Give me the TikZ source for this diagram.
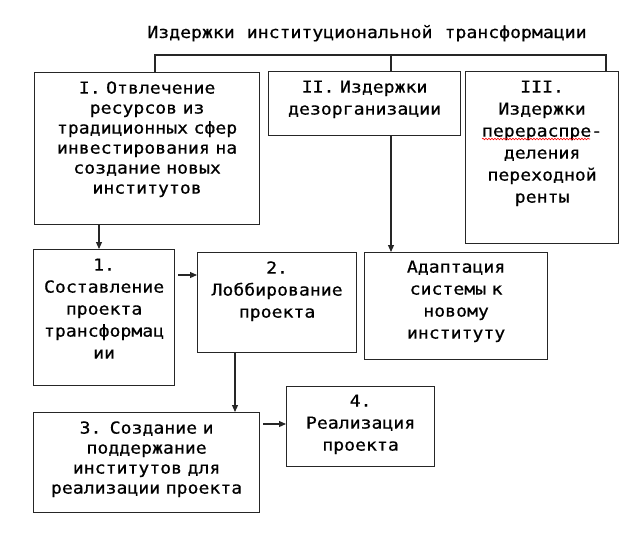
\documentclass[tikz,border=0pt]{standalone}
\usepackage{fontspec}
\newfontfamily\boxfont[FakeStretch=1.1, FakeBold=0.6, WordSpace={1.1,0,0}]{DejaVu Sans Mono}
\usepackage{tikz}
\usetikzlibrary{arrows.meta,positioning,decorations.pathmorphing}
\tikzset{every node/.append style={align=center}}

\begin{document}
\begin{tikzpicture}[
    x=1pt, y=-1pt,
    box/.style={draw=black!85, line width=1.2pt, inner sep=0pt, anchor=north west, font=\boxfont\fontsize{16.5}{22}\selectfont, text height=21pt},
    tight/.style={font=\boxfont\fontsize{16.5}{20}\selectfont},
    arrow/.style={-{Triangle[length=7pt, width=6pt]}, line width=1.1pt, draw=black!85},
    link/.style={line width=1.1pt, draw=black!85}
]
    \useasboundingbox (0,0) rectangle (643,533);

    % Title
    \node[font=\boxfont\fontsize{16.5}{22}\selectfont, anchor=base] (title) at (367,38) {Издержки институциональной трансформации};

    % Cost groups
    \node[box, tight, text width=225pt, text depth=131pt] (diversion) at (34,72) {I. Отвлечение\\ресурсов из\\традиционных сфер\\инвестирования на\\создание новых\\институтов};
    \node[box, text width=192pt, text depth=43pt] (disorg) at (268,71) {II. Издержки\\дезорганизации};
    \node[box, text width=153pt, text depth=151pt] (rent) at (465,71) {III.\\Издержки\\перераспре-\\деления\\переходной\\ренты};

    % Steps
    \node[box, text width=141pt, text depth=115pt] (drafting) at (33,249) {1.\\Составление\\проекта\\трансформац\\ии};
    \node[box, text width=159pt, text depth=79pt] (lobbying) at (197,252) {2.\\Лоббирование\\проекта};
    \node[box, text width=183pt, text height=20pt, text depth=87pt] (adaptation) at (364,252) {Адаптация\\системы к\\новому\\институту};
    \node[box, tight, text width=226pt, text depth=79pt] (support) at (33,412) {3. Создание и\\поддержание\\институтов для\\реализации проекта};
    \node[box, text width=148pt, text height=20pt, text depth=60pt] (realization) at (286,386) {4.\\Реализация\\проекта};

    % Bracket
    \coordinate (barleft) at (155,55);
    \coordinate (barmid) at (391,55);
    \coordinate (barright) at (606,55);
    \draw[link] (barleft |- diversion.north) -- (barleft) -- (barright) -- (barright |- rent.north);
    \draw[link] (barmid) -- (barmid |- disorg.north);

    % Arrows
    \coordinate (downleft) at (99,0);
    \coordinate (downmid) at (235,0);
    \coordinate (rowtop) at (0,275);
    \coordinate (rowbottom) at (0,424);
    \draw[arrow] (downleft |- diversion.south) -- (downleft |- drafting.north);
    \draw[arrow] (barmid |- disorg.south) -- (barmid |- adaptation.north);
    \draw[arrow, shorten <=3pt] (drafting.east |- rowtop) -- (lobbying.west |- rowtop);
    \draw[arrow] (downmid |- lobbying.south) -- (downmid |- support.north);
    \draw[arrow, shorten <=3pt] (support.east |- rowbottom) -- (realization.west |- rowbottom);

    % Spelling mark
    \draw[red, line width=0.6pt, decorate, decoration={snake, amplitude=0.8pt, segment length=3pt}] (482,139) -- (590,139);
\end{tikzpicture}
\end{document}
